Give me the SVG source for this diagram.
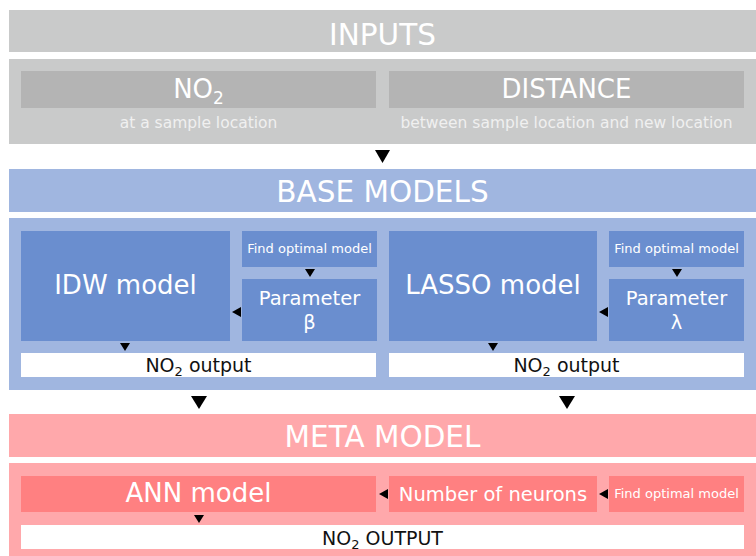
<svg xmlns="http://www.w3.org/2000/svg" width="756" height="556" viewBox="0 0 756 556">
<style>
text{font-family:"DejaVu Sans",Verdana,sans-serif;text-anchor:middle}
.hdr{font-size:29.5px;fill:#ffffff}
.g{fill:#c9caca}.gb{fill:#b4b4b4}
.b{fill:#a0b6e0}.bb{fill:#6a8ecf}
.p{fill:#ffa8ab}.pb{fill:#ff8081}
.w{fill:#ffffff}
.big{font-size:26px;fill:#ffffff}
.mid{font-size:19.5px;fill:#ffffff}
.sm{font-size:13px;fill:#ffffff}
.sub{font-size:15.5px;fill:#f0f0f0}
.out{font-size:19px;fill:#111111}
.arr{fill:#000000}
</style>
<rect x="0" y="0" width="756" height="556" fill="#ffffff"/>
<g id="inputs">
<rect class="g" x="9" y="10" width="747" height="42"/>
<text class="hdr" x="382.5" y="45">INPUTS</text>
<rect class="g" x="9" y="59" width="747" height="85"/>
</g>
<g id="no2-input">
<rect class="gb" x="21" y="71" width="355" height="37"/>
<text class="big" x="198.5" y="98">NO<tspan font-size="17px" dy="6">2</tspan></text>
<text class="sub" x="198.5" y="128">at a sample location</text>
</g>
<g id="distance-input">
<rect class="gb" x="389" y="71" width="355" height="37"/>
<text class="big" x="566.5" y="98">DISTANCE</text>
<text class="sub" x="566.5" y="128">between sample location and new location</text>
</g>
<g id="base-models">
<rect class="b" x="9" y="169" width="747" height="43"/>
<text class="hdr" x="382.5" y="202">BASE MODELS</text>
<rect class="b" x="9" y="218" width="747" height="172"/>
</g>
<g id="idw-model">
<rect class="bb" x="21" y="231" width="209" height="110"/>
<text class="big" x="125.5" y="294">IDW model</text>
</g>
<g id="idw-find">
<rect class="bb" x="242" y="231" width="135" height="36"/>
<text class="sm" x="309.5" y="253">Find optimal model</text>
</g>
<g id="idw-param">
<rect class="bb" x="242" y="279" width="135" height="62"/>
<text class="mid" x="309.5" y="305">Parameter</text>
<text class="mid" x="309.5" y="329">β</text>
</g>
<g id="idw-output">
<rect class="w" x="21" y="353" width="355" height="24"/>
<text class="out" x="198.5" y="372">NO<tspan font-size="13px" dy="4">2</tspan><tspan dy="-4"> output</tspan></text>
</g>
<g id="lasso-model">
<rect class="bb" x="389" y="231" width="208" height="110"/>
<text class="big" x="493" y="294">LASSO model</text>
</g>
<g id="lasso-find">
<rect class="bb" x="609" y="231" width="135" height="36"/>
<text class="sm" x="676.5" y="253">Find optimal model</text>
</g>
<g id="lasso-param">
<rect class="bb" x="609" y="279" width="135" height="62"/>
<text class="mid" x="676.5" y="305">Parameter</text>
<text class="mid" x="676.5" y="329">λ</text>
</g>
<g id="lasso-output">
<rect class="w" x="389" y="353" width="355" height="24"/>
<text class="out" x="566.5" y="372">NO<tspan font-size="13px" dy="4">2</tspan><tspan dy="-4"> output</tspan></text>
</g>
<g id="meta-model">
<rect class="p" x="9" y="414" width="747" height="43"/>
<text class="hdr" x="382.5" y="447">META MODEL</text>
<rect class="p" x="9" y="463" width="747" height="93"/>
</g>
<g id="ann-model">
<rect class="pb" x="21" y="476" width="355" height="36"/>
<text class="big" x="198.5" y="502">ANN model</text>
</g>
<g id="neurons">
<rect class="pb" x="389" y="476" width="208" height="36"/>
<text class="mid" x="493" y="501">Number of neurons</text>
</g>
<g id="ann-find">
<rect class="pb" x="609" y="476" width="135" height="36"/>
<text class="sm" x="676.5" y="498">Find optimal model</text>
</g>
<g id="final-output">
<rect class="w" x="21" y="525" width="723" height="24"/>
<text class="out" x="382.5" y="545">NO<tspan font-size="13px" dy="4">2</tspan><tspan dy="-4"> OUTPUT</tspan></text>
</g>
<g id="connectors">
<path class="arr" d="M375,150H390L382.5,163Z"/>
<path class="arr" d="M305,269H315L310,277Z"/>
<path class="arr" d="M241,307V317L232,312Z"/>
<path class="arr" d="M120,343H130L125,351Z"/>
<path class="arr" d="M672,269H682L677,277Z"/>
<path class="arr" d="M608,307V317L599,312Z"/>
<path class="arr" d="M488,343H498L493,351Z"/>
<path class="arr" d="M191,396H207L199,409Z"/>
<path class="arr" d="M559,396H575L567,409Z"/>
<path class="arr" d="M388,489V499L379,494Z"/>
<path class="arr" d="M608,489V499L599,494Z"/>
<path class="arr" d="M194,515H204L199,523Z"/>
</g>
</svg>
